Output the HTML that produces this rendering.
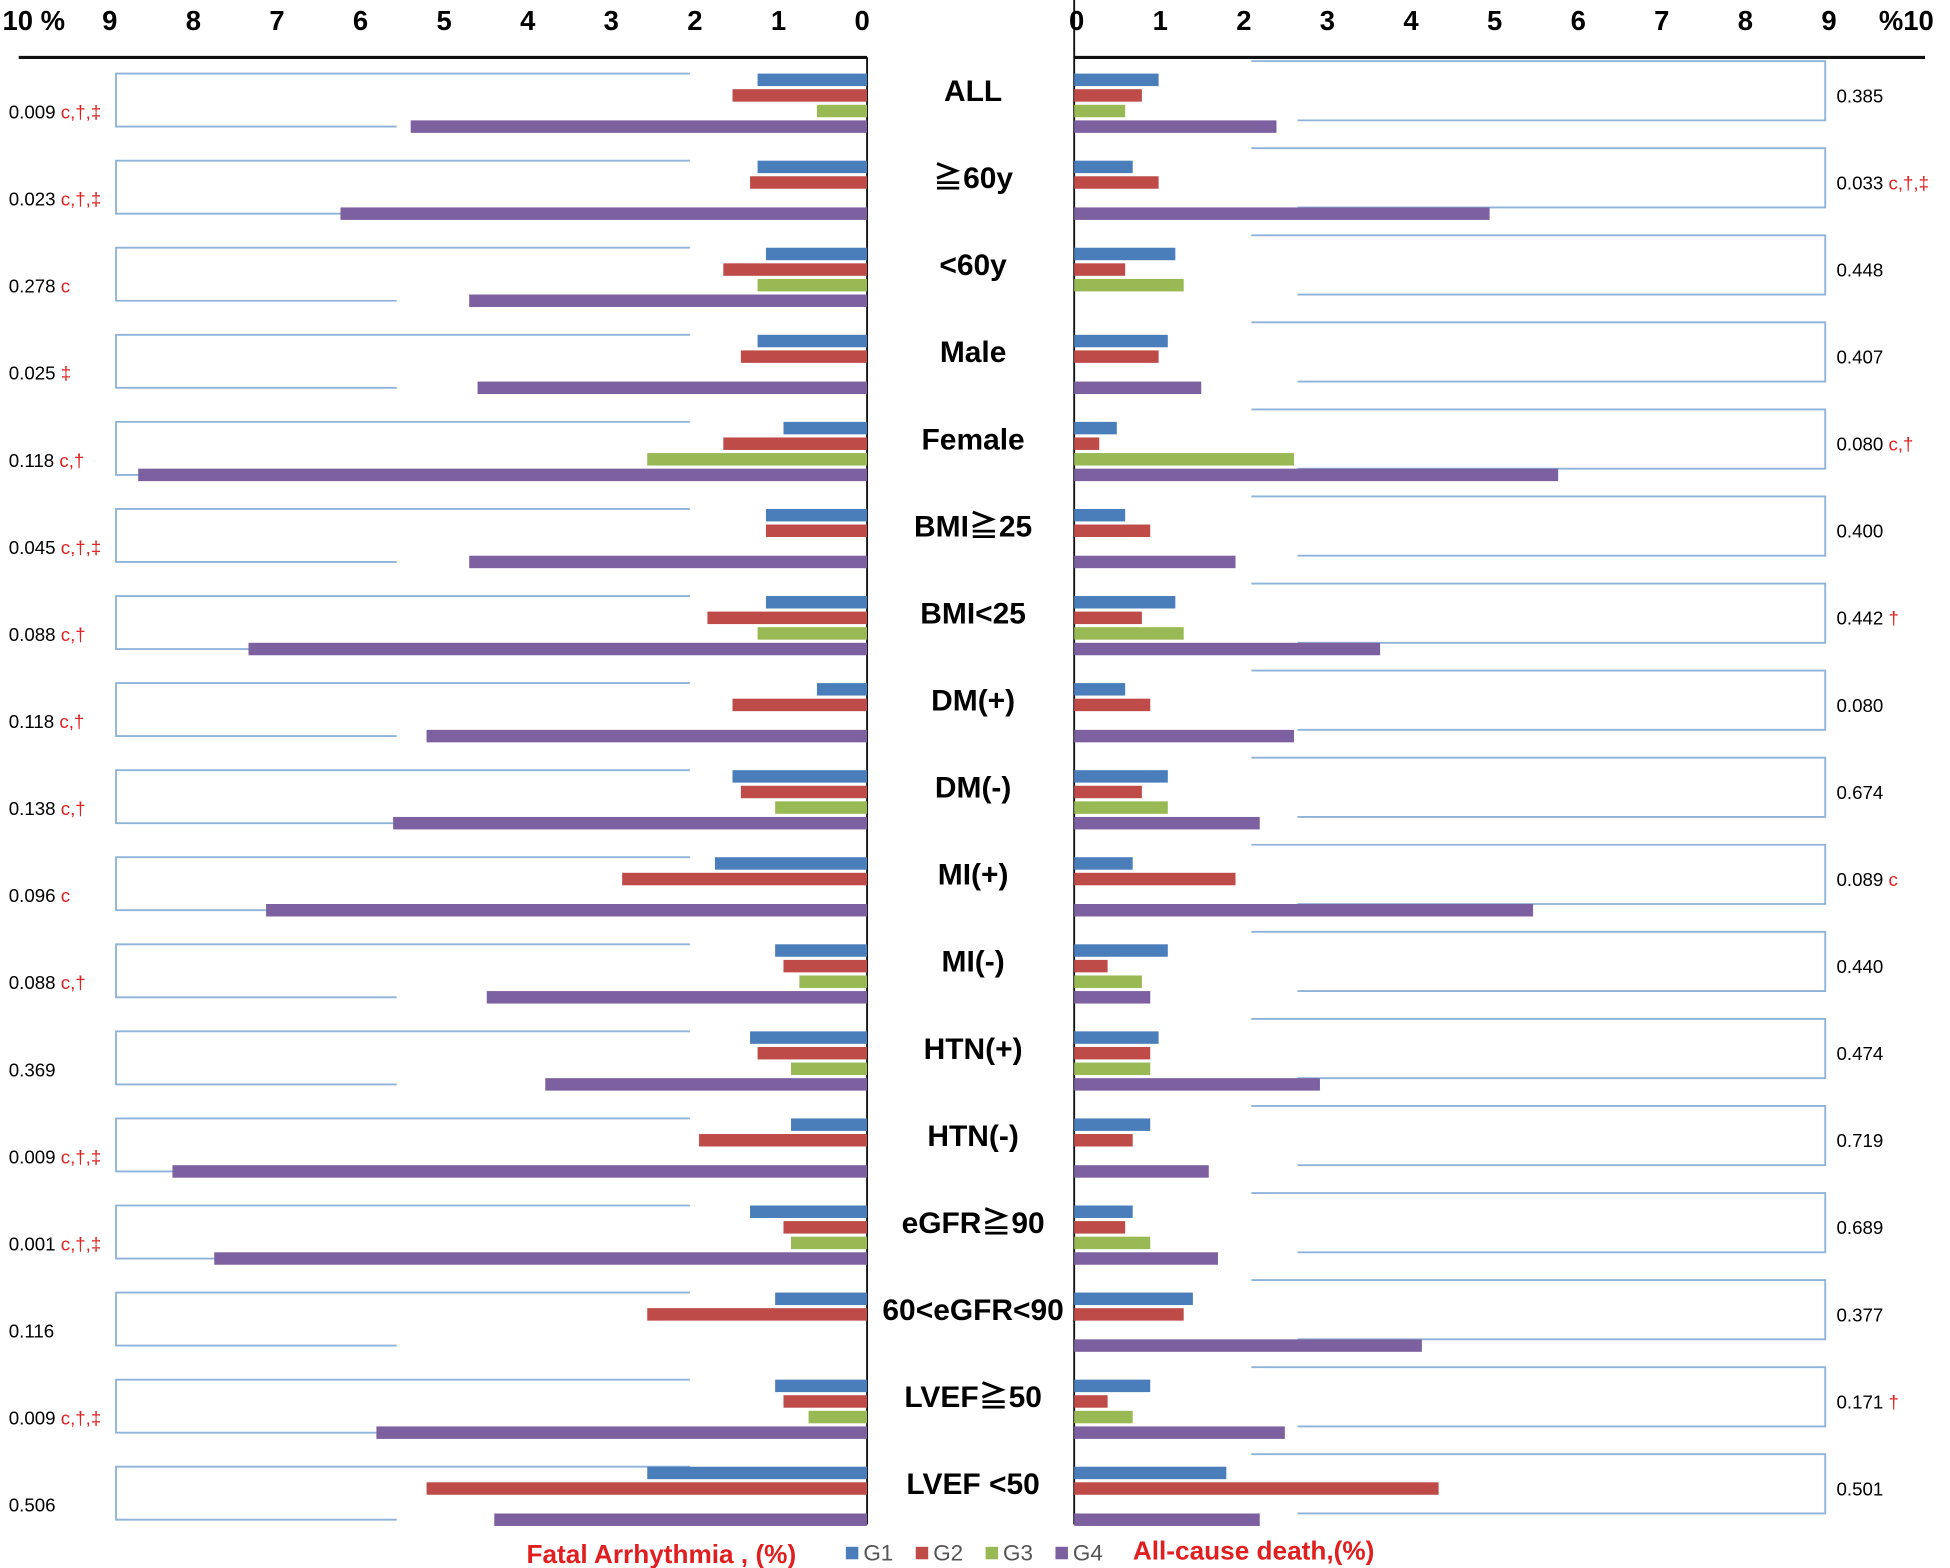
<!DOCTYPE html>
<html><head><meta charset="utf-8"><style>
html,body{margin:0;padding:0;background:#fff}
svg{display:block;font-family:"Liberation Sans","Noto Sans CJK JP",sans-serif}
</style></head><body>
<svg id="chart" width="1950" height="1568" viewBox="0 0 1563 1257" preserveAspectRatio="none" xmlns="http://www.w3.org/2000/svg"></svg>
<script>
const categories=["ALL","≧60y","<60y","Male","Female","BMI≧25","BMI<25","DM(+)","DM(-)","MI(+)","MI(-)","HTN(+)","HTN(-)","eGFR≧90","60<eGFR<90","LVEF≧50","LVEF <50"];
const leftG1=[1.31,1.31,1.21,1.31,1.0,1.21,1.21,0.6,1.61,1.82,1.1,1.4,0.91,1.4,1.1,1.1,2.63];
const leftG2=[1.61,1.4,1.72,1.51,1.72,1.21,1.91,1.61,1.51,2.93,1.0,1.31,2.01,1.0,2.63,1.0,5.27];
const leftG3=[0.6,0,1.31,0,2.63,0,1.31,0,1.1,0,0.81,0.91,0,0.91,0,0.7,0];
const leftG4=[5.46,6.3,4.76,4.66,8.72,4.76,7.4,5.27,5.67,7.19,4.55,3.85,8.31,7.81,0,5.87,4.46];
const rightG1=[1.01,0.7,1.21,1.12,0.51,0.61,1.21,0.61,1.12,0.7,1.12,1.01,0.91,0.7,1.42,0.91,1.82];
const rightG2=[0.81,1.01,0.61,1.01,0.3,0.91,0.81,0.91,0.81,1.93,0.4,0.91,0.7,0.61,1.31,0.4,4.36];
const rightG3=[0.61,0,1.31,0,2.63,0,1.31,0,1.12,0,0.81,0.91,0,0.91,0,0.7,0];
const rightG4=[2.42,4.97,0,1.52,5.79,1.93,3.66,2.63,2.22,5.49,0.91,2.94,1.61,1.72,4.16,2.52,2.22];
const leftP=["0.009","0.023","0.278","0.025","0.118","0.045","0.088","0.118","0.138","0.096","0.088","0.369","0.009","0.001","0.116","0.009","0.506"];
const leftSig=["c,†,‡","c,†,‡","c","‡","c,†","c,†,‡","c,†","c,†","c,†","c","c,†","","c,†,‡","c,†,‡","","c,†,‡",""];
const rightP=["0.385","0.033","0.448","0.407","0.080","0.400","0.442","0.080","0.674","0.089","0.440","0.474","0.719","0.689","0.377","0.171","0.501"];
const rightSig=["","c,†,‡","","","c,†","","†","","","c","","","","","","†",""];
const tickLabels=["0","1","2","3","4","5","6","7","8","9"];

const svg=document.getElementById('chart');
const NS="http://www.w3.org/2000/svg";
const L0=695,R0=861,U=67,TOP=59,STEP=69.8;
const xL=v=>L0-v*U, xR=v=>R0+v*U, yG=i=>TOP+i*STEP;
const colors=["#4a7ebb","#be4b48","#98b954","#7d60a0"];
function el(tag,attrs,parent){const e=document.createElementNS(NS,tag);for(const k in attrs)e.setAttribute(k,attrs[k]);(parent||svg).appendChild(e);return e;}

// axes
let a=el('line',{x1:15,y1:46,x2:L0,y2:46,stroke:'#111','stroke-width':2.5});


a=el('line',{x1:R0,y1:46,x2:1543,y2:46,stroke:'#111','stroke-width':2.5});


a=el('line',{x1:L0,y1:46,x2:L0,y2:1222,stroke:'#111','stroke-width':1.5});


a=el('line',{x1:R0,y1:0,x2:R0,y2:1222,stroke:'#111','stroke-width':1.5});



tickLabels.forEach((t,i)=>{
  let e=el('text',{x:xL(+t)-4,y:24,'font-size':22,'font-weight':'bold','text-anchor':'middle'});e.textContent=t;
  
  
  e=el('text',{x:xR(+t)+2,y:24,'font-size':22,'font-weight':'bold','text-anchor':'middle'});e.textContent=t;
  
  
});
let t=el('text',{x:2,y:24,'font-size':22,'font-weight':'bold'});t.textContent="10 %";


t=el('text',{x:1506,y:24,'font-size':22,'font-weight':'bold'});t.textContent="%10";



const series=[[leftG1,rightG1],[leftG2,rightG2],[leftG3,rightG3],[leftG4,rightG4]];
categories.forEach((c,i)=>{
  const y=yG(i);
  const g=el('g',{});
  
  
  // brackets
  const by=y+37.5+5;
  el('path',{d:`M553 ${y} H93 V${by} H318`,fill:'none',stroke:'#8fb3d9','stroke-width':1.5},g);
  el('path',{d:`M1003 ${y-10} H1463 V${by-5} H1040`,fill:'none',stroke:'#8fb3d9','stroke-width':1.5},g);
  series.forEach((s,k)=>{
    const yy=y+k*12.5;
    if(s[0][i]>0){const r=el('rect',{x:xL(s[0][i]),y:yy,width:L0-xL(s[0][i]),height:10,fill:colors[k]},g);
      
      }
    if(s[1][i]>0){const r=el('rect',{x:R0,y:yy,width:xR(s[1][i])-R0,height:10,fill:colors[k]},g);
      
      }
  });
  const lb=el('text',{x:780,y:y+22,'font-size':24,'font-weight':'bold','text-anchor':'middle'},g);lb.textContent=c;
  
  
  const pl=el('text',{x:7,y:y+36,'font-size':15},g);
  
  
  pl.appendChild(document.createTextNode(leftP[i]+" "));
  const ts=el('tspan',{fill:'#e02020'},pl);ts.textContent=leftSig[i];
  const pr=el('text',{x:1472,y:y+23,'font-size':15},g);
  
  
  pr.appendChild(document.createTextNode(rightP[i]+" "));
  const ts2=el('tspan',{fill:'#e02020'},pr);ts2.textContent=rightSig[i];
});

// legend
t=el('text',{x:422,y:1253,'font-size':21,'font-weight':'bold',fill:'#e02020'});t.textContent="Fatal Arrhythmia , (%)";


t=el('text',{x:908,y:1250,'font-size':21,'font-weight':'bold',fill:'#e02020'});t.textContent="All-cause death,(%)";


["G1","G2","G3","G4"].forEach((n,k)=>{
  const lx=678+k*56;
  const r=el('rect',{x:lx,y:1240,width:10,height:10,fill:colors[k]});
  
  
  const tx=el('text',{x:lx+14,y:1251,'font-size':18,fill:'#555'});tx.textContent=n;
  
  
});
</script>
</body></html>
